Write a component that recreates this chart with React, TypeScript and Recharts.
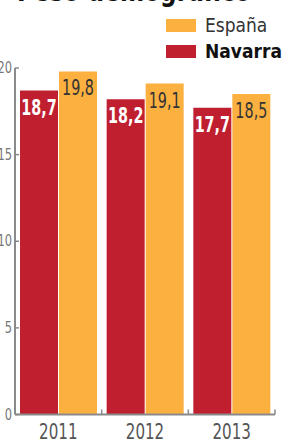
import { BarChart, Bar, XAxis, YAxis, LabelList } from "recharts";

const years = ["2011", "2012", "2013"];
const navarra = [18.7, 18.2, 17.7];
const espana = [19.8, 19.1, 18.5];
const yTicks = [0, 5, 10, 15, 20];

const NARROW = '"Liberation Sans Narrow", "DejaVu Sans Condensed", "Roboto", sans-serif';
const RED = "#c01f2f";
const ORANGE = "#fbb040";

const data = years.map((y, i) => ({ year: y, Navarra: navarra[i], "España": espana[i] }));

const fmt = (v: number) => v.toFixed(1).replace(".", ",");

function YTick(props: any) {
  const { x, y, payload } = props;
  return (
    <g>
      <line x1={x} x2={x + 4} y1={y} y2={y} stroke="#8a8a8a" strokeWidth={1.5} />
      <text
        transform={`translate(${x - 3},${y + 5}) scale(0.85,1)`}
        textAnchor="end"
        fontSize={15}
        fill="#777"
        fontFamily={NARROW}
      >
        {payload.value}
      </text>
    </g>
  );
}

function XTick(props: any) {
  const { x, y, payload } = props;
  const half = 260 / 3 / 2;
  return (
    <g>
      <line x1={x + half} x2={x + half} y1={y} y2={y - 5} stroke="#8a8a8a" strokeWidth={1.5} />
      <text
        transform={`translate(${x},${y + 24}) scale(0.8,1)`}
        textAnchor="middle"
        fontSize={21}
        fill="#555"
        fontFamily={NARROW}
      >
        {payload.value}
      </text>
    </g>
  );
}

function makeLabel(color: string, bold: boolean) {
  return (props: any) => {
    const { x, y, width, value } = props;
    return (
      <text
        transform={`translate(${x + width / 2},${y + 24}) scale(0.76,1)`}
        textAnchor="middle"
        fontSize={21}
        fontWeight={bold ? "bold" : "normal"}
        fill={color}
        fontFamily={NARROW}
      >
        {fmt(value)}
      </text>
    );
  };
}

function LegendBox() {
  const row = { display: "flex", alignItems: "center", height: 26 } as const;
  const sw = { width: 30, height: 13, marginRight: 9 } as const;
  return (
    <div style={{ position: "absolute", left: 166, top: 12, fontFamily: NARROW, fontSize: 19 }}>
      <div style={row}>
        <span style={{ ...sw, background: ORANGE }} />
        <span style={{ color: "#333" }}>España</span>
      </div>
      <div style={row}>
        <span style={{ ...sw, background: RED }} />
        <span style={{ color: "#111", fontWeight: "bold" }}>Navarra</span>
      </div>
    </div>
  );
}

export default function App() {
  return (
    <div style={{ position: "absolute", left: 0, top: 0, width: 303, height: 444, overflow: "hidden", background: "#fff" }}>
      <div
        style={{
          position: "absolute",
          left: 17,
          top: -27,
          fontFamily: NARROW,
          fontWeight: "bold",
          fontSize: 30,
          color: "#111",
          whiteSpace: "nowrap",
          transform: "scaleX(0.86)",
          transformOrigin: "left top",
        }}
      >
        Peso demográfico
      </div>
      <LegendBox />
      <BarChart
        width={303}
        height={444}
        data={data}
        margin={{ top: 68, right: 28, bottom: 0, left: 0 }}
        barCategoryGap={5}
        barGap={1}
      >
        <XAxis
          dataKey="year"
          height={29.5}
          axisLine={{ stroke: "#8a8a8a", strokeWidth: 2 }}
          tickLine={false}
          tickSize={0}
          tickMargin={0}
          tick={<XTick />}
        />
        <YAxis
          width={15}
          domain={[0, 20]}
          ticks={yTicks}
          axisLine={{ stroke: "#8a8a8a", strokeWidth: 2 }}
          tickLine={false}
          tickSize={0}
          tickMargin={0}
          tick={<YTick />}
          interval={0}
        />
        <Bar dataKey="Navarra" fill={RED} isAnimationActive={false}>
          <LabelList dataKey="Navarra" content={makeLabel("#fff", true)} />
        </Bar>
        <Bar dataKey="España" fill={ORANGE} isAnimationActive={false}>
          <LabelList dataKey="España" content={makeLabel("#333", false)} />
        </Bar>
      </BarChart>
    </div>
  );
}
